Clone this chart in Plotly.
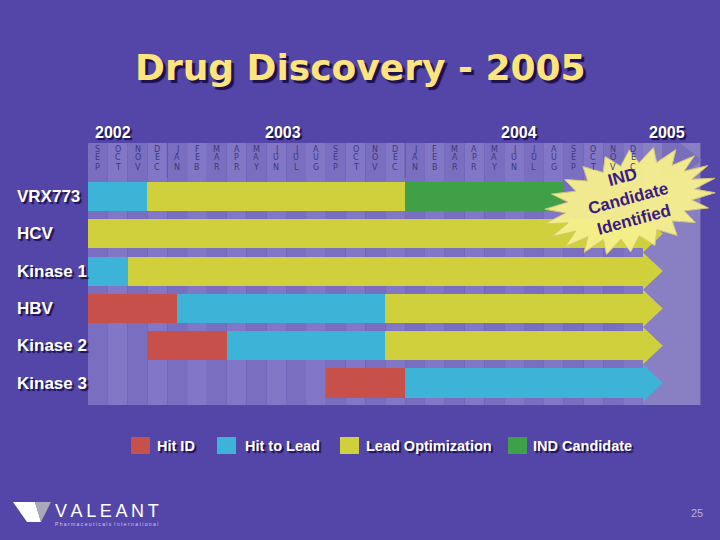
import math
import plotly.graph_objects as go

# ---------------- data ----------------
projects = ["VRX773", "HCV", "Kinase 1", "HBV", "Kinase 2", "Kinase 3"]
# months counted from Sep 2002 (0) to end of Dec 2004 (28)
month_labels = ["SEP", "OCT", "NOV", "DEC",
                "JAN", "FEB", "MAR", "APR", "MAY", "JUN", "JUL", "AUG", "SEP", "OCT", "NOV", "DEC",
                "JAN", "FEB", "MAR", "APR", "MAY", "JUN", "JUL", "AUG", "SEP", "OCT", "NOV", "DEC"]
year_labels = ["2002", "2003", "2004", "2005"]
year_label_pos = [1.25, 9.85, 21.75, 29.2]

phases = ["Hit ID", "Hit to Lead", "Lead Optimization", "IND Candidate"]
phase_colors = ["#c8504a", "#3db3d8", "#cfd03c", "#40a048"]
# start / end (in months) per project for each phase; None = phase not shown
hit_id_start = [None, None, None, 0, 3, 12]
hit_id_end = [None, None, None, 4.5, 7, 16]
h2l_start = [0, None, 0, 4.5, 7, 16]
h2l_end = [3, None, 2, 15, 15, 28]
lo_start = [3, 0, 2, 15, 15, None]
lo_end = [16, 28, 28, 28, 28, None]
ind_start = [16, None, None, None, None, None]
ind_end = [24, None, None, None, None, None]
ongoing = [False, True, True, True, True, True]

phase_starts = [hit_id_start, h2l_start, lo_start, ind_start]
phase_ends = [hit_id_end, h2l_end, lo_end, ind_end]

# ---------------- helpers ----------------
W, H = 720, 540
def px(x):
    return x / W
def py(y):
    return 1 - y / H

BG = "#5446a8"
fig = go.Figure()

# month stripes (grid background)
shapes = []
grid_top, grid_bot = 143, 405
for i, _ in enumerate(month_labels):
    shapes.append(dict(type="rect", xref="x", yref="paper", x0=i, x1=i + 1,
                       y0=py(grid_bot), y1=py(grid_top), layer="below",
                       line=dict(width=0),
                       fillcolor="#7a6ec1" if i % 2 == 0 else "#8276c6"))
# 2005 zone
shapes.append(dict(type="rect", xref="x", yref="paper", x0=len(month_labels), x1=30.9,
                   y0=py(grid_bot), y1=py(grid_top), layer="below", line=dict(width=0),
                   fillcolor="#8880c2"))
shapes.append(dict(type="path", xref="paper", yref="paper", layer="below", line=dict(width=0),
                   fillcolor="#786ebb",
                   path=f"M {px(662)} {py(143)} L {px(680)} {py(143)} L {px(702)} {py(160)} L {px(680)} {py(177)} L {px(662)} {py(177)} Z"))
# year divider lines in the header
for b in [4, 16]:
    shapes.append(dict(type="line", xref="x", yref="paper", x0=b, x1=b,
                       y0=py(178), y1=py(grid_top), layer="below",
                       line=dict(color="#5f54a6", width=1)))

# ---------------- bars ----------------
for p, name in enumerate(phases):
    ys, xs, bases = [], [], []
    for r in range(len(projects)):
        s, e = phase_starts[p][r], phase_ends[p][r]
        if s is None:
            continue
        ys.append(r)
        bases.append(s)
        xs.append(e - s)
    fig.add_trace(go.Bar(orientation="h", y=ys, x=xs, base=bases, width=0.78,
                         marker=dict(color=phase_colors[p], line=dict(width=0)),
                         name=name, showlegend=False, hoverinfo="skip"))

# arrow heads for ongoing programmes
arrow_len = 1.0
for r in range(len(projects)):
    if not ongoing[r]:
        continue
    last_p = max(p for p in range(len(phases)) if phase_ends[p][r] is not None)
    e = phase_ends[last_p][r]
    fig.add_trace(go.Scatter(x=[e, e + arrow_len, e, e], y=[r - 0.5, r, r + 0.5, r - 0.5],
                             mode="lines", fill="toself", fillcolor=phase_colors[last_p],
                             line=dict(width=0), showlegend=False, hoverinfo="skip"))

# ---------------- text ----------------
ann = []
shadow = "2px 2px 1px #1c1050"
ann.append(dict(text="Drug Discovery - 2005", x=px(360), y=py(67), xref="paper", yref="paper",
                showarrow=False, xanchor="center", yanchor="middle",
                font=dict(family="DejaVu Sans", size=36, color="#fde47c", weight="bold",
                          shadow="3px 3px 1px #1c1050")))
for t, xp in zip(year_labels, year_label_pos):
    ann.append(dict(text=t, x=xp, y=py(132), xref="x", yref="paper", showarrow=False,
                    xanchor="center", yanchor="middle",
                    font=dict(family="Liberation Sans", size=16, color="white", weight="bold",
                              shadow=shadow)))
for i, m in enumerate(month_labels):
    for k, ch in enumerate(m):
        ann.append(dict(text=ch, x=i + 0.5, y=py(149 + 9 * k), xref="x", yref="paper",
                        showarrow=False, xanchor="center", yanchor="middle",
                        font=dict(family="DejaVu Sans", size=8, color="#40387a")))
for r, name in enumerate(projects):
    ann.append(dict(text=name, x=px(15), y=r, xref="paper", yref="y", showarrow=False,
                    xanchor="left", yanchor="middle",
                    font=dict(family="Liberation Sans", size=17, color="white", weight="bold",
                              shadow=shadow)))

# legend
leg_sq_x = [131, 217, 340, 508]
leg_txt_x = [155, 243, 364, 531]
for p, name in enumerate(phases):
    shapes.append(dict(type="rect", xref="paper", yref="paper",
                       x0=px(leg_sq_x[p]), x1=px(leg_sq_x[p] + 19), y0=py(454), y1=py(437),
                       fillcolor=phase_colors[p], line=dict(width=0)))
    ann.append(dict(text=name, x=px(leg_txt_x[p]), y=py(446), xref="paper", yref="paper",
                    showarrow=False, xanchor="left", yanchor="middle",
                    font=dict(family="Liberation Sans", size=14.5, color="white", weight="bold",
                              shadow=shadow)))

# starburst
cx, cy = 630, 201
rot = math.radians(15)
npts = 22
pts = []
for k in range(2 * npts):
    ang = math.pi * k / npts
    if k % 2 == 0:
        a, b = 88, 50
    else:
        a, b = 66, 36
    x0 = a * math.cos(ang)
    y0 = b * math.sin(ang)
    xr = x0 * math.cos(rot) + y0 * math.sin(rot)
    yr = -x0 * math.sin(rot) + y0 * math.cos(rot)
    pts.append((cx + xr, cy + yr))
path = "M " + " L ".join(f"{px(x):.5f} {py(y):.5f}" for x, y in pts) + " Z"
shapes.append(dict(type="path", xref="paper", yref="paper", path=path, layer="above",
                   fillcolor="#f7f08e", opacity=0.95, line=dict(color="#d8c878", width=1)))
ann.append(dict(text="IND<br>Candidate<br>Identified", x=px(628), y=py(198), xref="paper",
                yref="paper", showarrow=False, textangle=-15, xanchor="center", yanchor="middle",
                font=dict(family="Liberation Sans", size=17, color="#3a1c80", weight="bold")))

# logo + page number
shapes.append(dict(type="path", xref="paper", yref="paper", fillcolor="white", line=dict(width=0),
                   path=f"M {px(13)} {py(502)} L {px(35)} {py(502)} L {px(41)} {py(522)} L {px(27)} {py(522)} Z"))
shapes.append(dict(type="path", xref="paper", yref="paper", fillcolor="#a8a8b8", line=dict(width=0),
                   path=f"M {px(35)} {py(502)} L {px(51)} {py(502)} L {px(41)} {py(522)} Z"))
ann.append(dict(text="V\u2009A\u2009L\u2009E\u2009A\u2009N\u2009T", x=px(53), y=py(511), xref="paper",
                yref="paper", showarrow=False, xanchor="left", yanchor="middle",
                font=dict(family="Liberation Sans", size=18, color="white")))
ann.append(dict(text="P h a r m a c e u t i c a l s  I n t e r n a t i o n a l", x=px(53), y=py(524),
                xref="paper", yref="paper", showarrow=False, xanchor="left", yanchor="middle",
                font=dict(family="Liberation Sans", size=5, color="#d0cce8")))
ann.append(dict(text="25", x=px(697), y=py(513), xref="paper", yref="paper", showarrow=False,
                xanchor="center", yanchor="middle",
                font=dict(family="Liberation Sans", size=11, color="#b8b0dc")))

fig.update_layout(
    width=W, height=H, margin=dict(l=0, r=0, t=0, b=0),
    paper_bgcolor=BG, plot_bgcolor="rgba(0,0,0,0)",
    barmode="overlay", bargap=0,
    xaxis=dict(range=[-88 / 19.82, (W - 88) / 19.82], visible=False, fixedrange=True),
    yaxis=dict(range=[(H - 196.5) / 37.3, -196.5 / 37.3], visible=False, fixedrange=True),
    shapes=shapes, annotations=ann, showlegend=False,
)
fig.write_html("out.html")
